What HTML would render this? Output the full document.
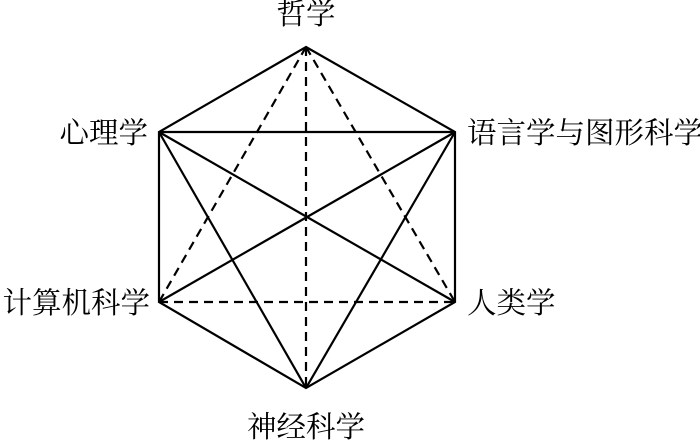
<!DOCTYPE html>
<html><head><meta charset="utf-8"><style>
html,body{margin:0;padding:0;background:#fff;}
svg{display:block}
text{font-family:"Liberation Serif","Noto Serif CJK SC",serif;font-size:29.5px;fill:#000}
</style></head><body>
<svg width="700" height="442" viewBox="0 0 700 442" xmlns="http://www.w3.org/2000/svg">
<g stroke="#000" stroke-width="2.2" fill="none">
<polygon points="306,47 455,132 455,302 306,388 159,302 159,132"/>
<line x1="159" y1="132" x2="455" y2="132"/>
<line x1="159" y1="132" x2="455" y2="302"/>
<line x1="455" y1="132" x2="159" y2="302"/>
<line x1="159" y1="132" x2="306" y2="388"/>
<line x1="455" y1="132" x2="306" y2="388"/>
</g>
<g stroke="#000" stroke-width="2.2" fill="none" stroke-dasharray="9,6">
<line x1="306" y1="47" x2="306" y2="388"/>
<line x1="306" y1="47" x2="159" y2="302"/>
<line x1="306" y1="47" x2="455" y2="302"/>
<line x1="159" y1="302" x2="455" y2="302"/>
</g>
<text x="306" y="24" text-anchor="middle">哲学</text>
<text x="148" y="143" text-anchor="end">心理学</text>
<text x="467" y="143">语言学与图形科学</text>
<text x="150" y="313" text-anchor="end">计算机科学</text>
<text x="467" y="313">人类学</text>
<text x="306" y="437" text-anchor="middle">神经科学</text>
</svg>
</body></html>
